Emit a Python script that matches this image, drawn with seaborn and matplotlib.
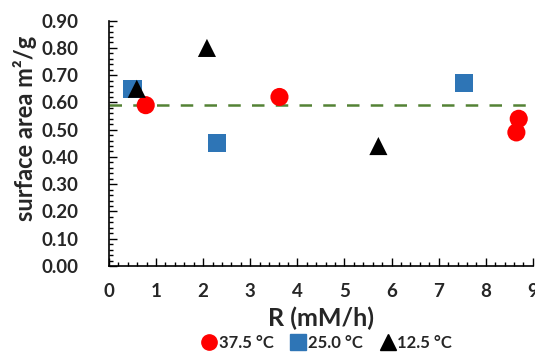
import matplotlib
matplotlib.use("Agg")
import matplotlib.pyplot as plt
from matplotlib.ticker import MultipleLocator, FormatStrFormatter
import seaborn as sns
import pandas as pd

series_names = ["37.5 °C", "25.0 °C", "12.5 °C"]
r_375 = [0.78, 3.62, 8.70, 8.65]
sa_375 = [0.59, 0.62, 0.54, 0.49]
r_250 = [0.50, 2.30, 7.54]
sa_250 = [0.65, 0.45, 0.67]
r_125 = [0.59, 2.08, 5.72]
sa_125 = [0.65, 0.80, 0.44]
mean_line = 0.59

colors = {"37.5 °C": "#FF0000", "25.0 °C": "#2E75B6", "12.5 °C": "#000000"}
markers = {"37.5 °C": "o", "25.0 °C": "s", "12.5 °C": "^"}

df = pd.DataFrame({
    "R": r_375 + r_250 + r_125,
    "SA": sa_375 + sa_250 + sa_125,
    "T": [series_names[0]] * len(r_375) + [series_names[1]] * len(r_250) + [series_names[2]] * len(r_125),
})

sns.set_style("white")
plt.rcParams["font.family"] = ["Lato", "DejaVu Sans"]
plt.rcParams["font.weight"] = "bold"

fig = plt.figure(figsize=(5.35, 3.53), dpi=100)
ax = fig.add_axes([0.2037, 0.2465, 0.7923, 0.695])

ax.axhline(mean_line, color="#548235", lw=1.8, dashes=(5, 4.5), zorder=1)

sns.scatterplot(data=df, x="R", y="SA", hue="T", style="T", palette=colors,
                markers=markers, s=170, linewidth=0, ax=ax, zorder=3, legend=False)

ax.set_xlim(0, 9)
ax.set_ylim(0, 0.9)
ax.xaxis.set_major_locator(MultipleLocator(1))
ax.xaxis.set_minor_locator(MultipleLocator(0.2))
ax.yaxis.set_major_locator(MultipleLocator(0.1))
ax.yaxis.set_minor_locator(MultipleLocator(0.02))
ax.yaxis.set_major_formatter(FormatStrFormatter("%.2f"))
ax.tick_params(axis="both", which="major", direction="in", length=6, width=1, color="black",
               labelsize=13.5)
ax.tick_params(axis="x", which="major", pad=12)
ax.tick_params(axis="y", which="major", pad=22)
ax.tick_params(axis="both", which="minor", direction="in", length=3, width=1, color="black")
ax.tick_params(axis="x", which="both", bottom=True)
ax.tick_params(axis="y", which="both", left=True)
for lab in ax.get_xticklabels() + ax.get_yticklabels():
    lab.set_fontweight("bold")

for s in ["top", "right"]:
    ax.spines[s].set_visible(False)
for s in ["left", "bottom"]:
    ax.spines[s].set_color("black")
    ax.spines[s].set_linewidth(1.2)

ax.set_xlabel("R (mM/h)", fontsize=18, fontweight="bold")
ax.xaxis.set_label_coords(0.5, -0.165)
ax.set_ylabel("surface area m²/g", fontsize=17, fontweight="bold")
ax.yaxis.set_label_coords(-0.17, 0.56)

handles = [plt.Line2D([], [], ls="", marker=markers[n], color=colors[n], markersize=11, label=n)
           for n in series_names]
fig.legend(handles=handles, loc="center", bbox_to_anchor=(0.61, 0.028), ncol=3, frameon=False,
           prop={"size": 12, "weight": "bold"}, handletextpad=0.05, columnspacing=1.0, handlelength=1.0)

fig.savefig("out.png", dpi=100)
